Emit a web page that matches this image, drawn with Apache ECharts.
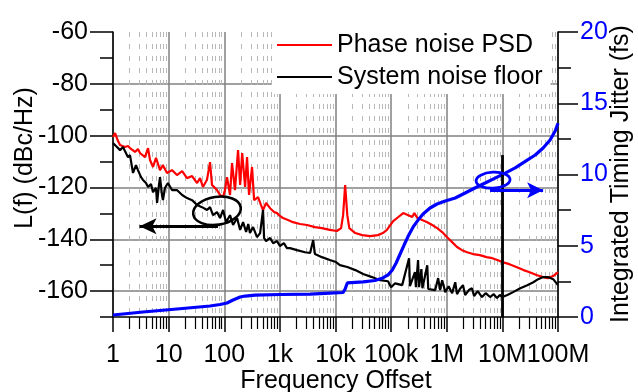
<!DOCTYPE html>
<html>
<head>
<meta charset="utf-8">
<script src="https://cdn.jsdelivr.net/npm/echarts@6/dist/echarts.min.js"></script>
<style>
  html, body { margin: 0; padding: 0; background: #fff; }
  #chart { width: 638px; height: 392px; }
</style>
</head>
<body>
<div id="chart"></div>
<script>
// tick labels for the decades 1 Hz ... 100 MHz
const freqLabels = ['1', '10', '100', '1k', '10k', '100k', '1M', '10M', '100M']

// Phase noise PSD (dBc/Hz)
const phaseFreq = [1, 1.09, 1.23, 1.34, 1.45, 1.64, 1.86, 2.02, 2.49, 2.81, 3.06, 3.76, 4.26, 4.63, 5.24, 5.93, 7.0, 7.9, 9.35,
  11.5, 14.1, 17.5, 21.4, 26.4, 32.5, 36.7, 41.4, 49, 55.5, 60.2, 74, 84, 95, 103, 112, 127, 138, 156, 177, 193, 210, 237,
  257, 279, 316, 344, 405, 458, 498, 565, 667, 787, 890, 1000, 1136, 1400, 1720, 2300, 3070, 4270, 5700, 7900, 10600,
  12600, 13700, 14900, 16300, 17700, 22700, 30300, 42000, 58000, 71000, 84000, 109000, 135000, 165000, 203000, 240000,
  261000, 296000, 363000, 446000, 548000, 673000, 827000, 1.016e6, 1.25e6, 1.53e6, 1.88e6, 2.32e6, 2.96e6, 3.94e6,
  5.2e6, 6.6e6, 8.1e6, 1.0e7, 1.34e7, 1.78e7, 2.4e7, 3.1e7, 4.1e7, 5.4e7, 6.6e7, 8.2e7, 1e8]
const phaseDb = [-100.5, -99, -102.1, -103.6, -102.9, -104.4, -104, -104.8, -106.3, -105.2, -106.7, -108.3, -104.8, -109.4,
  -112.1, -108.6, -113.3, -111.4, -114.4, -113.3, -115.2, -113.7, -116.4, -115.6, -118.3, -116.4, -119.8, -117, -110.2,
  -119, -121, -122.9, -123.7, -121, -116, -122.9, -110.6, -121, -105.6, -119, -106.7, -119.8, -108.3, -122.9, -112.1,
  -124.9, -123.7, -126.8, -128.7, -126, -128, -129.5, -129.9, -131, -131.8, -132.6, -133.4, -134.1, -134.5, -135.3,
  -135.7, -136.4, -136.8, -135.7, -130.7, -119.1, -130.7, -135.7, -137.6, -138.4, -138.8, -138.4, -137.6, -136.4, -133,
  -131.4, -129.9, -130.7, -131.4, -129.9, -131.8, -132.6, -133.4, -134.5, -135.7, -137.2, -139.2, -141.1, -143, -144.2,
  -145, -145.7, -146.1, -146.9, -147.3, -148, -148.8, -149.6, -150.7, -151.9, -152.7, -153.8, -154.6, -155, -154.2, -152.7]

// System noise floor (dBc/Hz)
const floorFreq = [1, 1.13, 1.34, 1.51, 1.64, 1.86, 2.02, 2.29, 2.59, 2.81, 3.19, 3.46, 3.92, 4.26, 4.82, 5.24, 5.93, 6.2,
  6.7, 7.0, 7.6, 7.9, 8.6, 9.7, 11.5, 14.1, 17.5, 21.4, 26.4, 32.5, 39.8, 49, 55.5, 62.8, 74, 84, 95.3, 108, 127, 144,
  170, 193, 218, 247, 270, 290, 330, 388, 441, 498, 520, 565, 667, 756, 890, 1000, 1180, 1340, 1520, 2030, 2830, 3500,
  3970, 4270, 5700, 7900, 10200, 12000, 16300, 22700, 31400, 45300, 63000, 88000, 100000, 118000, 158000, 210000, 218000,
  268000, 279000, 305000, 318000, 350000, 365000, 446000, 465000, 620000, 700000, 760000, 827000, 940000, 1.08e6, 1.25e6,
  1.42e6, 1.53e6, 1.72e6, 1.96e6, 2.14e6, 2.5e6, 2.84e6, 3.1e6, 3.6e6, 4.3e6, 5.0e6, 6.0e6, 7.0e6, 8.0e6, 9.0e6, 1.0e7,
  1.23e7, 1.56e7, 2.1e7, 2.8e7, 3.6e7, 4.4e7, 5.4e7, 6.6e7, 8.2e7, 1e8]
const floorDb = [-102.9, -104, -105.6, -104.4, -104.8, -108.3, -107.5, -114.4, -111.4, -113.3, -116, -117.1, -118.3, -119.8,
  -118.7, -121.8, -120.2, -126, -119.1, -116, -122.9, -124.9, -120.2, -118.3, -121, -121, -122.9, -124.1, -124.9, -126.8,
  -127.6, -128.7, -127.6, -130.7, -129.5, -131.8, -128.7, -133.4, -130.7, -134.5, -131.8, -136.4, -133.4, -137.2, -134.1,
  -137.6, -135.3, -139.2, -137.6, -128.7, -139.5, -140.7, -139.5, -141.5, -140.7, -142.6, -141.5, -143.4, -143.4, -144.2,
  -145, -145.3, -140.3, -145.7, -146.9, -148, -148.8, -150, -150.7, -151.9, -153.4, -154.6, -155.8, -156.2, -158.5, -157,
  -157.7, -147.3, -158.1, -152.7, -158.5, -148, -158.5, -151.5, -158.9, -150, -159.2, -159.6, -155, -159.6, -155.8, -160.4,
  -158.1, -160.8, -156.6, -161.2, -159.2, -157.7, -161.5, -159.6, -158.9, -161.9, -160, -162.3, -160.8, -162.3, -161.2,
  -162.7, -161.5, -162.3, -161.5, -160.4, -158.9, -157.7, -156.6, -155.4, -154.6, -154.6, -155.4, -157.7]

// Integrated timing jitter (fs)
const jitterFreq = [1, 3.46, 14.1, 55.5, 84, 112, 144, 193, 237, 358, 1000, 3500, 7900, 13700, 14900, 16300, 31400, 51000,
  71000, 88000, 105000, 123000, 145000, 171000, 203000, 249000, 305000, 375000, 500000, 670000, 940000, 1.42e6, 2.14e6,
  3.2e6, 4.9e6, 7.4e6, 1.12e7, 1.7e7, 2.5e7, 3.9e7, 5.4e7, 7.2e7, 8.9e7, 1e8]
const jitterFs = [0.14, 0.35, 0.56, 0.77, 0.88, 0.98, 1.19, 1.4, 1.47, 1.54, 1.58, 1.61, 1.68, 1.72, 1.96, 2.39, 2.46,
  2.56, 2.74, 2.95, 3.3, 3.79, 4.42, 5.05, 5.68, 6.32, 6.8, 7.23, 7.65, 7.93, 8.14, 8.35, 8.7, 9.05, 9.4, 9.75, 10.1,
  10.46, 10.88, 11.37, 11.86, 12.42, 13.05, 13.6]

const font = 'Liberation Sans, Arial, Helvetica, sans-serif'
const blue = '#0000ff'

// log-decade positions for the axis (minor ticks at 2..9 of every decade)
const majorPos = freqLabels.map((l, i) => i)
const minorPos = []
for (let d = 0; d < 8; d++) {
  for (let k = 2; k <= 9; k++) minorPos.push(d + Math.log10(k))
}

const toXY = (fs, vs) => fs.map((f, i) => [Math.log10(f), vs[i]])

const chart = echarts.init(document.getElementById('chart'))

const option = {
  animation: false,
  textStyle: { fontFamily: font },
  grid: { left: 113, right: 80, top: 32, bottom: 75 },
  legend: {
    orient: 'vertical',
    left: 272,
    top: 28,
    padding: [4, 8, 4, 5],
    backgroundColor: '#fff',
    icon: 'rect',
    itemWidth: 55,
    itemHeight: 2,
    itemGap: 6,
    textStyle: { fontSize: 25, color: '#000', fontFamily: font, lineHeight: 26 },
    data: ['Phase noise PSD', 'System noise floor']
  },
  xAxis: [
    {
      type: 'value', min: 0, max: 8, position: 'bottom',
      axisLine: { lineStyle: { color: '#000', width: 1.5 } },
      axisTick: { customValues: minorPos, length: 12, lineStyle: { color: '#000', width: 1.2 } },
      axisLabel: { show: false },
      splitLine: { show: true, lineStyle: { color: '#b8b8b8', width: 1, type: [5, 7] } }
    },
    {
      type: 'value', min: 0, max: 8, position: 'bottom',
      axisLine: { show: false },
      axisTick: { customValues: majorPos, length: 15, lineStyle: { color: '#000', width: 1.5 } },
      axisLabel: {
        customValues: majorPos, margin: 26, fontSize: 25, color: '#000', fontFamily: font,
        formatter: v => freqLabels[Math.round(v)]
      },
      splitLine: { show: true, lineStyle: { color: '#808080', width: 1.5 } }
    }
  ],
  yAxis: [
    {
      type: 'value', min: -170, max: -60, interval: 10, position: 'left',
      axisLine: { show: true, lineStyle: { color: '#000', width: 1.5 } },
      axisTick: { show: true, length: 13, lineStyle: { color: '#000', width: 1.5 } },
      axisLabel: { show: false },
      splitLine: { show: false }
    },
    {
      type: 'value', min: -170, max: -60, position: 'left',
      axisLine: { show: false },
      axisTick: { show: true, customValues: [-160, -140, -120, -100, -80, -60], length: 23, lineStyle: { color: '#000', width: 1.5 } },
      axisLabel: { customValues: [-160, -140, -120, -100, -80, -60], margin: 25, fontSize: 25, color: '#000', fontFamily: font },
      splitLine: { show: false }
    },
    {
      type: 'value', min: -170, max: -60, position: 'left',
      axisLine: { show: false },
      axisTick: { show: false, customValues: [-160, -140, -120, -100, -80] },
      axisLabel: { show: false },
      splitLine: { show: true, lineStyle: { color: '#808080', width: 1.5 } }
    },
    {
      type: 'value', min: 0, max: 20, interval: 2.5, position: 'right',
      axisLine: { show: true, lineStyle: { color: '#000', width: 1.5 } },
      axisTick: { show: true, length: 13, lineStyle: { color: '#000', width: 1.5 } },
      axisLabel: { show: false },
      splitLine: { show: false }
    },
    {
      type: 'value', min: 0, max: 20, position: 'right',
      axisLine: { show: false },
      axisTick: { show: true, customValues: [0, 5, 10, 15, 20], length: 20, lineStyle: { color: '#000', width: 1.5 } },
      axisLabel: { customValues: [0, 5, 10, 15, 20], margin: 22, fontSize: 25, color: blue, fontFamily: font },
      splitLine: { show: false }
    }
  ],
  graphic: [
    {
      id: 'ytitle', type: 'text', x: 25, y: 158, rotation: Math.PI / 2,
      style: { text: 'L(f) (dBc/Hz)', font: '25px ' + font, fill: '#000', align: 'center', verticalAlign: 'middle' }
    },
    {
      id: 'y2title', type: 'text', x: 621, y: 174, rotation: Math.PI / 2,
      style: { text: 'Integrated Timing Jitter (fs)', font: '25px ' + font, fill: '#000', align: 'center', verticalAlign: 'middle' }
    },
    {
      id: 'xtitle', type: 'text', x: 336, y: 381,
      style: { text: 'Frequency Offset', font: '25px ' + font, fill: '#000', align: 'center', verticalAlign: 'middle' }
    }
  ],
  series: [
    {
      name: 'Phase noise PSD', type: 'line', xAxisIndex: 0, yAxisIndex: 0,
      symbol: 'none', color: '#ff0000',
      lineStyle: { color: '#ff0000', width: 2.2 },
      data: toXY(phaseFreq, phaseDb)
    },
    {
      name: 'System noise floor', type: 'line', xAxisIndex: 0, yAxisIndex: 0,
      symbol: 'none', color: '#000',
      lineStyle: { color: '#000', width: 2.2 },
      data: toXY(floorFreq, floorDb),
      markLine: {
        silent: true, animation: false,
        label: { show: false },
        lineStyle: { color: '#000', width: 2.8, type: 'solid' },
        data: [
          [{ coord: [Math.log10(77), -135], symbol: 'none' }, { coord: [Math.log10(3), -135], symbol: 'arrow', symbolSize: [12, 17] }],
          [{ coord: [7, -107.5], symbol: 'none' }, { coord: [7, -170], symbol: 'none' }]
        ]
      }
    },
    {
      name: 'Integrated timing jitter', type: 'line', xAxisIndex: 0, yAxisIndex: 3,
      symbol: 'none', color: blue,
      lineStyle: { color: blue, width: 3.2 },
      data: toXY(jitterFreq, jitterFs),
      markLine: {
        silent: true, animation: false,
        label: { show: false },
        lineStyle: { color: blue, width: 2.8, type: 'solid' },
        data: [
          [{ coord: [Math.log10(6e6), 8.9], symbol: 'none' }, { coord: [Math.log10(5.4e7), 8.9], symbol: 'arrow', symbolSize: [12, 16] }]
        ]
      }
    }
  ]
}

chart.setOption(option)

// circled regions, placed through the axes
const c1 = chart.convertToPixel({ xAxisIndex: 0, yAxisIndex: 0 }, [Math.log10(74), -129])
const c2 = chart.convertToPixel({ xAxisIndex: 0, yAxisIndex: 3 }, [Math.log10(6.8e6), 9.6])
chart.setOption({
  graphic: [
    {
      id: 'ring1', type: 'ellipse', x: c1[0], y: c1[1], rotation: 0.15, z: 10,
      shape: { cx: 0, cy: 0, rx: 24, ry: 14 },
      style: { fill: 'none', stroke: '#000', lineWidth: 2.6 }
    },
    {
      id: 'ring2', type: 'ellipse', x: c2[0], y: c2[1], rotation: 0.05, z: 10,
      shape: { cx: 0, cy: 0, rx: 17, ry: 8 },
      style: { fill: 'none', stroke: blue, lineWidth: 2.8 }
    }
  ]
})
</script>
</body>
</html>
